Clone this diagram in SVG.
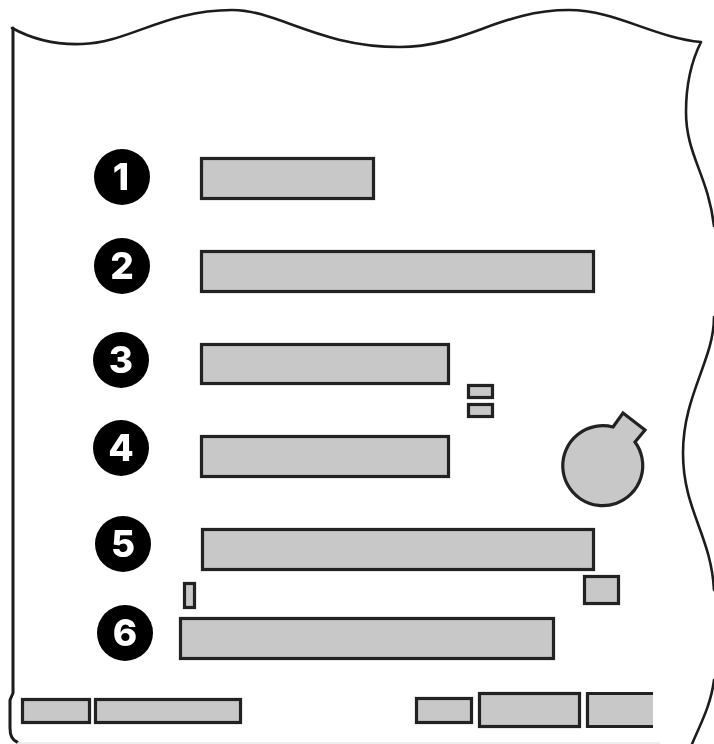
<svg xmlns="http://www.w3.org/2000/svg" width="714" height="744" viewBox="0 0 714 744">
<style>
.s{fill:#c8c8c8;stroke:#222;stroke-width:3.2}
.o{fill:none;stroke:#1c1c1c;stroke-width:2.6;stroke-linecap:round;stroke-linejoin:round}
.c{fill:#000}
.t{fill:#fff;font-family:Inter,"Liberation Sans",Arial,sans-serif;font-weight:800;font-size:37px;text-anchor:middle}
</style>
<defs><filter id="b" x="-5%" y="-5%" width="110%" height="110%"><feGaussianBlur stdDeviation="0.6"/></filter></defs>
<rect width="714" height="744" fill="#fff"/>
<g filter="url(#b)">
<g id="board">
<path class="o" d="M12 28C30 38 55 45 82 44C128 43 165 10 232 10C278 10 318 47 400 47C465 47 500 10 569 10C615 10 655 38 701 42C691 62 686 85 686 112C686 155 708 175 714 226"/>
<path class="o" d="M714 317C714 360 683 395 683 453C683 510 711 535 714 590"/>
<path class="o" d="M714 680C711 705 700 725 692 744"/>
<path class="o" style="stroke-width:3" d="M13 28V693L10 700V728C10 735 12 740 17 742"/>
<path d="M17 743H660" fill="none" stroke="#ddd" stroke-width="1"/>
</g>
<g id="slot-1"><circle class="c" cx="122" cy="177" r="28"/><text class="t" x="121" y="190">1</text><rect class="s" x="201.500" y="158.500" width="172" height="40"/></g>
<g id="slot-2"><circle class="c" cx="122" cy="266" r="28"/><text class="t" x="122" y="279">2</text><rect class="s" x="201.500" y="251.500" width="392" height="40"/></g>
<g id="slot-3"><circle class="c" cx="121" cy="360" r="28"/><text class="t" x="121" y="373">3</text><rect class="s" x="201.500" y="344.500" width="247" height="39"/></g>
<g id="slot-4"><circle class="c" cx="121" cy="448" r="28"/><text class="t" x="121" y="461">4</text><rect class="s" x="201.500" y="436.500" width="247" height="40"/></g>
<g id="slot-5"><circle class="c" cx="123" cy="544" r="28"/><text class="t" x="123" y="557">5</text><rect class="s" x="202.500" y="529.500" width="391" height="40"/></g>
<g id="slot-6"><circle class="c" cx="125" cy="633" r="28"/><text class="t" x="125" y="646">6</text><rect class="s" x="180.500" y="618.500" width="373" height="40"/></g>
<g id="jumper-a"><rect class="s" x="468.500" y="385.500" width="24" height="12"/></g>
<g id="jumper-b"><rect class="s" x="468.500" y="404.500" width="24" height="12"/></g>
<g id="battery"><path class="s" d="M613 427L623 413L645 430L635 442A40 40 0 1 1 613 427Z"/></g>
<g id="chip-a"><rect class="s" x="584.500" y="576.500" width="34" height="27"/></g>
<g id="chip-b"><rect class="s" x="184.500" y="583.500" width="10" height="24"/></g>
<g id="port-1"><rect class="s" x="22.500" y="699.500" width="67" height="23"/></g>
<g id="port-2"><rect class="s" x="95.500" y="699.500" width="145" height="23"/></g>
<g id="port-3"><rect class="s" x="416.500" y="698.500" width="55" height="24"/></g>
<g id="port-4"><rect class="s" x="479.500" y="693.500" width="100" height="33"/></g>
<g id="port-5"><path d="M653 693.500H587.500V726.500H653Z" fill="#c8c8c8"/><path d="M653 693.500H587.500V726.500H653" fill="none" stroke="#222" stroke-width="3.2"/></g>
</g>
</svg>
